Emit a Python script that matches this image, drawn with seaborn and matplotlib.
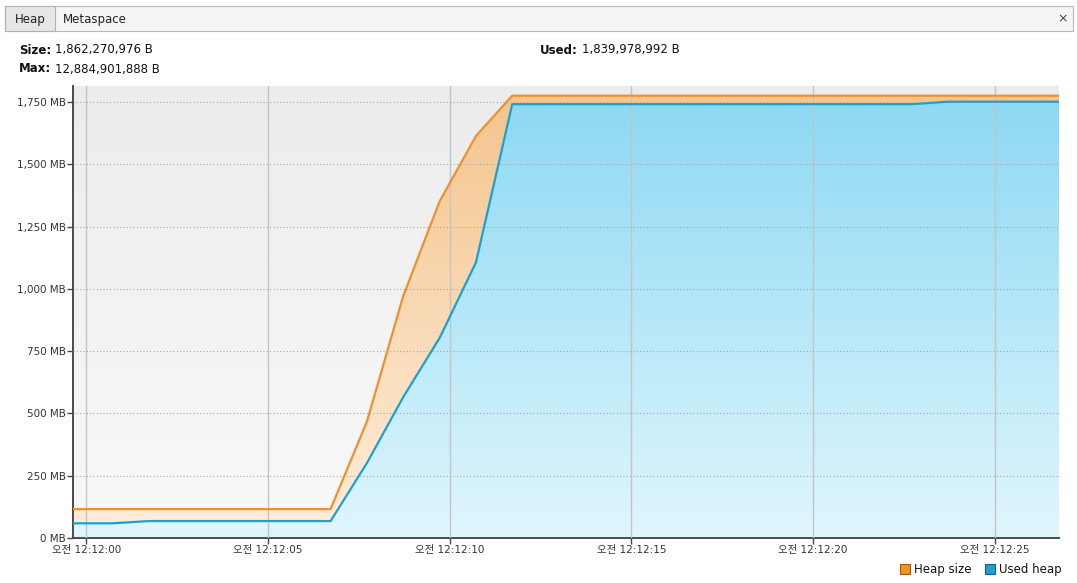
import matplotlib
matplotlib.use('Agg')
import matplotlib.pyplot as plt
from matplotlib.patches import Rectangle, Polygon
from matplotlib.colors import LinearSegmentedColormap
import seaborn as sns
import pandas as pd
import numpy as np

# sample times in seconds after 12:12:00
times = [-1.28, -0.28, 0.72, 1.72, 2.72, 3.72, 4.72, 5.72, 6.72, 7.72,
         8.72, 9.72, 10.72, 11.72, 12.72, 13.72, 14.72, 15.72, 16.72, 17.72,
         18.72, 19.72, 20.72, 21.72, 22.72, 23.72, 24.72, 25.72, 26.72, 27.72]
heap_mb = [116, 116, 116, 116, 116, 116, 116, 116, 116, 467,
           972, 1351, 1614, 1776, 1776, 1776, 1776, 1776, 1776, 1776,
           1776, 1776, 1776, 1776, 1776, 1776, 1776, 1776, 1776, 1776]
used_mb = [59, 59, 59, 68, 68, 68, 68, 68, 68, 301,
           566, 803, 1106, 1742, 1742, 1742, 1742, 1742, 1742, 1742,
           1742, 1742, 1742, 1742, 1742, 1752, 1752, 1752, 1752, 1752]

x_ticks = [0, 5, 10, 15, 20, 25]
x_labels = ['오전 12:12:00', '오전 12:12:05', '오전 12:12:10',
            '오전 12:12:15', '오전 12:12:20', '오전 12:12:25']
y_ticks = [0, 250, 500, 750, 1000, 1250, 1500, 1750]
y_labels = ['0 MB', '250 MB', '500 MB', '750 MB', '1,000 MB',
            '1,250 MB', '1,500 MB', '1,750 MB']

df = pd.DataFrame({'t': times, 'Heap size': heap_mb, 'Used heap': used_mb})

sns.set_style('white')
plt.rcParams['font.family'] = ['DejaVu Sans', 'Noto Sans CJK KR']

W, H = 1077, 583
fig = plt.figure(figsize=(W / 100, H / 100), dpi=100)
fig.patch.set_facecolor('white')

def fx(px):
    return px / W

def fy(py):
    return 1 - py / H

x0, x1 = -0.37, 26.77
ytop = 1815
ax = fig.add_axes([fx(73), fy(538), fx(1059) - fx(73), fy(86) - fy(538)])

def gradient(ax, top, bottom, z, col=None):
    cmap = LinearSegmentedColormap.from_list('g', [bottom, top])
    grad = np.linspace(0, 1, 256).reshape(-1, 1)
    im = ax.imshow(grad, extent=[x0, x1, 0, ytop], origin='lower',
                   aspect='auto', cmap=cmap, zorder=z, interpolation='bicubic')
    if col is not None:
        verts = [(df['t'].iloc[0], 0)] + list(zip(df['t'], df[col])) + [(df['t'].iloc[-1], 0)]
        patch = Polygon(verts, closed=True, facecolor='none', edgecolor='none',
                        transform=ax.transData)
        ax.add_patch(patch)
        im.set_clip_path(patch)
    return im

# background of plot area
gradient(ax, '#ececec', '#f9f9f9', 0)

orange_line = '#ef9030'
blue_line = '#1da0d0'

gradient(ax, '#f4c48c', '#feeedc', 1, 'Heap size')
gradient(ax, '#8ad8f3', '#e0f6fd', 1.1, 'Used heap')

sns.lineplot(data=df, x='t', y='Heap size', ax=ax, color=orange_line, lw=1.6, zorder=3)
sns.lineplot(data=df, x='t', y='Used heap', ax=ax, color=blue_line, lw=1.6, zorder=3)

ax.set_xlim(x0, x1)
ax.set_ylim(0, ytop)
ax.set_xlabel('')
ax.set_ylabel('')
ax.set_xticks(x_ticks)
ax.set_xticklabels(x_labels)
ax.set_yticks(y_ticks)
ax.set_yticklabels(y_labels)
ax.set_axisbelow(False)
ax.xaxis.grid(True, color='#c4c4c4', lw=1, ls='-')
ax.yaxis.grid(True, color='#a8a8a8', lw=0.8, ls=(0, (1, 2)))
ax.tick_params(axis='both', direction='out', length=4, width=1, color='#444444',
               labelsize=7.5, labelcolor='#333333', pad=1)
ax.tick_params(axis='both', which='both', bottom=True, left=True)
for s in ['top', 'right']:
    ax.spines[s].set_visible(False)
for s in ['left', 'bottom']:
    ax.spines[s].set_color('#4a4a4a')
    ax.spines[s].set_linewidth(1.4)

# tab strip at the top
fig.patches.append(Rectangle((fx(5), fy(31)), fx(1073) - fx(5), fy(6) - fy(31),
                             transform=fig.transFigure, facecolor='#f5f5f5',
                             edgecolor='#b8b8b8', lw=0.8))
fig.patches.append(Rectangle((fx(5), fy(31)), fx(55) - fx(5), fy(6) - fy(31),
                             transform=fig.transFigure, facecolor='#e6e6e6',
                             edgecolor='#b0b0b0', lw=0.8))
fig.text(fx(30), fy(19), 'Heap', ha='center', va='center', fontsize=8.5, color='#222222')
fig.text(fx(63), fy(19), 'Metaspace', ha='left', va='center', fontsize=8.5, color='#222222')
fig.text(fx(1063), fy(19), '×', ha='center', va='center', fontsize=9, color='#444444')

# header values
def label_value(x, y, key, val):
    t = fig.text(fx(x), fy(y), key, ha='left', va='center', fontsize=8.5,
                 fontweight='bold', color='#111111')
    fig.canvas.draw()
    bb = t.get_window_extent()
    fig.text(bb.x1 / W + fx(4), fy(y), val, ha='left', va='center', fontsize=8.5,
             color='#111111')

label_value(19, 50, 'Size:', '1,862,270,976 B')
label_value(19, 69, 'Max:', '12,884,901,888 B')
label_value(540, 50, 'Used:', '1,839,978,992 B')

# legend
for sx, col, edge, name in [(900, '#f0922a', '#a05a10', 'Heap size'),
                            (985, '#1fa0d0', '#106080', 'Used heap')]:
    fig.patches.append(Rectangle((fx(sx), fy(574)), fx(10), fy(564) - fy(574),
                                 transform=fig.transFigure, facecolor=col,
                                 edgecolor=edge, lw=0.8))
    fig.text(fx(sx + 14), fy(569), name, ha='left', va='center', fontsize=8.5,
             color='#111111')

fig.savefig('out.png', dpi=100)
